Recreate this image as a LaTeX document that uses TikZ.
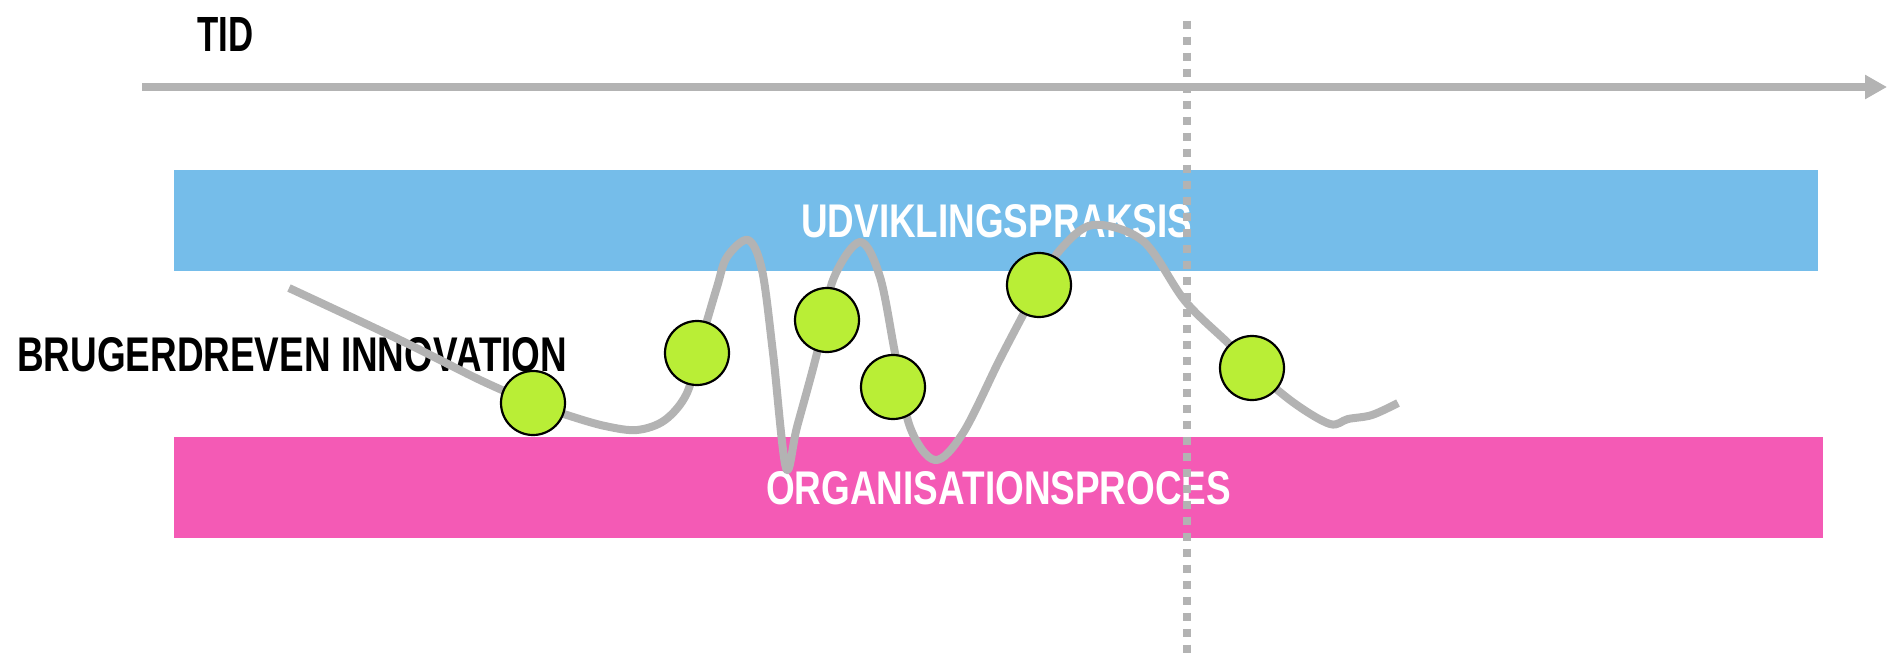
\documentclass[tikz,border=0pt]{standalone}
\usepackage{fontspec}
\setmainfont{Liberation Sans}
\usepackage{graphicx}
\usetikzlibrary{arrows.meta}
\definecolor{bandblue}{RGB}{117,189,234}
\definecolor{bandpink}{RGB}{244,90,181}
\definecolor{dotgreen}{RGB}{185,238,54}
\definecolor{linegray}{RGB}{179,179,179}
\tikzset{
  band/.style={rectangle, inner sep=0, anchor=north west},
  lbl/.style={anchor=south west, inner sep=0},
  ball/.style={circle, draw=black, line width=2.2pt, fill=dotgreen, minimum size=64pt, inner sep=0},
  timeline/.style={draw=linegray, line width=8pt, -{Triangle[length=22pt,width=23pt]}},
  marker/.style={draw=linegray, line width=8pt, dash pattern=on 8pt off 8pt},
  wave/.style={draw=linegray, line width=8pt, line join=round}
}
\begin{document}
\begin{tikzpicture}[x=1pt,y=-1pt]
\useasboundingbox (0,0) rectangle (1887,661);
% bands
\node[band, fill=bandblue, minimum width=1644pt, minimum height=101pt] (dev) at (174,170) {};
\node[band, fill=bandpink, minimum width=1649pt, minimum height=101pt] (org) at (174,437) {};
\node[lbl, text=white] (devtxt) at (801,238) {\resizebox{391pt}{33pt}{\bfseries UDVIKLINGSPRAKSIS}};
\node[lbl, text=white] (orgtxt) at (766,505) {\resizebox{465pt}{33pt}{\bfseries ORGANISATIONSPROCES}};
% dotted marker
\coordinate (m0) at (1187,20.7);
\coordinate (m1) at (1187,653);
\draw[marker] (m0) -- (m1);
% time axis
\coordinate (t0) at (142,87);
\coordinate (t1) at (1887,87);
\draw[timeline] (t0) -- (t1);
\node[lbl] (tid) at (197,52) {\resizebox{56pt}{34pt}{\bfseries TID}};
\node[lbl] (bi) at (17,372) {\resizebox{550pt}{34pt}{\bfseries BRUGERDREVEN INNOVATION}};
% wave
\draw[wave] plot[smooth, tension=0.55] coordinates {
(289,288) (400,340) (480,380) (533,403) (570,416) (605,426) (637,430) (665,420) (687,393) (700,345) (717,287) (727,257) (748,240) (762,270) (773,353) (786,468) (797,427) (817,353) (833,280) (860,242) (880,277) (895,353) (910,427) (935,460) (963,433) (999,361) (1023,315) (1039,285) (1060,250) (1093,225) (1143,241) (1185,301) (1228,343) (1252,368) (1294,403) (1330,424) (1348,419) (1372,415) (1398,403)};
% balls
\node[ball] (c1) at (533,403) {};
\node[ball] (c2) at (697,353) {};
\node[ball] (c3) at (827,320) {};
\node[ball] (c4) at (893,387) {};
\node[ball] (c5) at (1039,285) {};
\node[ball] (c6) at (1252,368) {};
\end{tikzpicture}
\end{document}
